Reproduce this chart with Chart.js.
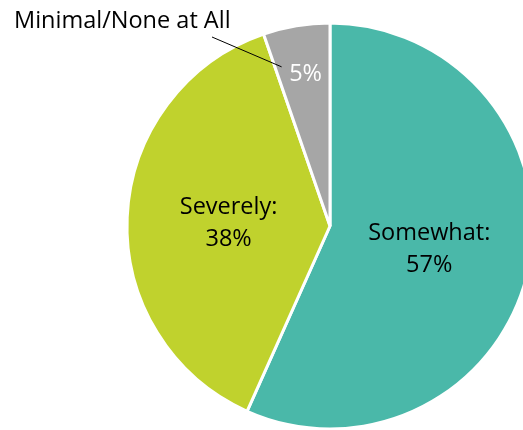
<!DOCTYPE html>
<html>
<head>
<meta charset="utf-8">
<script src="https://cdn.jsdelivr.net/npm/chart.js@4/dist/chart.umd.min.js"></script>
<style>
  html, body { margin: 0; padding: 0; background: #fff; overflow: hidden; width: 523px; height: 430px; }
  #wrap { position: absolute; left: 0; top: 0; width: 660px; height: 452px; }
</style>
</head>
<body>
<div id="wrap"><canvas id="c" width="660" height="452"></canvas></div>
<script>
const categories = ['Somewhat', 'Severely', 'Minimal/None at All'];
const values = [56.7, 38.0, 5.3];
const pctLabels = ['57%', '38%', '5%'];
const colors = ['#4AB8A9', '#C0D22D', '#A6A6A6'];

const FONT = '23.5px "Open Sans", sans-serif';

const labelPlugin = {
  id: 'pieLabels',
  afterDatasetsDraw(chart) {
    const ctx = chart.ctx;
    const meta = chart.getDatasetMeta(0);
    ctx.save();
    ctx.font = FONT;
    ctx.textAlign = 'center';
    ctx.textBaseline = 'middle';
    meta.data.forEach((arc, i) => {
      const pct = pctLabels[i];
      if (i < 2) {
        const p = arc.tooltipPosition();
        ctx.fillStyle = '#000';
        ctx.fillText(categories[i] + ':', p.x, p.y - 14);
        ctx.fillText(pct, p.x, p.y + 18);
      } else {
        const mid = (arc.startAngle + arc.endAngle) / 2;
        const r = arc.outerRadius * 0.755;
        const lx = arc.x + Math.cos(mid) * r;
        const ly = arc.y + Math.sin(mid) * r;
        ctx.fillStyle = '#fff';
        ctx.fillText(pct, lx + 1, ly - 1);
        // leader line to external label
        ctx.strokeStyle = '#000';
        ctx.lineWidth = 1;
        ctx.beginPath();
        ctx.moveTo(lx - 23, ly - 8);
        ctx.lineTo(212, 37);
        ctx.stroke();
        ctx.fillStyle = '#000';
        ctx.textAlign = 'left';
        ctx.fillText(categories[i], 14, 21);
      }
    });
    ctx.restore();
  }
};

new Chart(document.getElementById('c'), {
  type: 'pie',
  data: {
    labels: categories,
    datasets: [{
      data: values,
      backgroundColor: colors,
      borderColor: '#ffffff',
      borderWidth: 3,
      hoverBorderWidth: 3,
      hoverOffset: 0
    }]
  },
  options: {
    responsive: false,
    animation: false,
    layout: { padding: { left: 22.5, right: 22.5, top: 21.5, bottom: 21.5 } },
    plugins: {
      legend: { display: false },
      tooltip: { enabled: false }
    },
    events: []
  },
  plugins: [labelPlugin]
});
</script>
</body>
</html>
